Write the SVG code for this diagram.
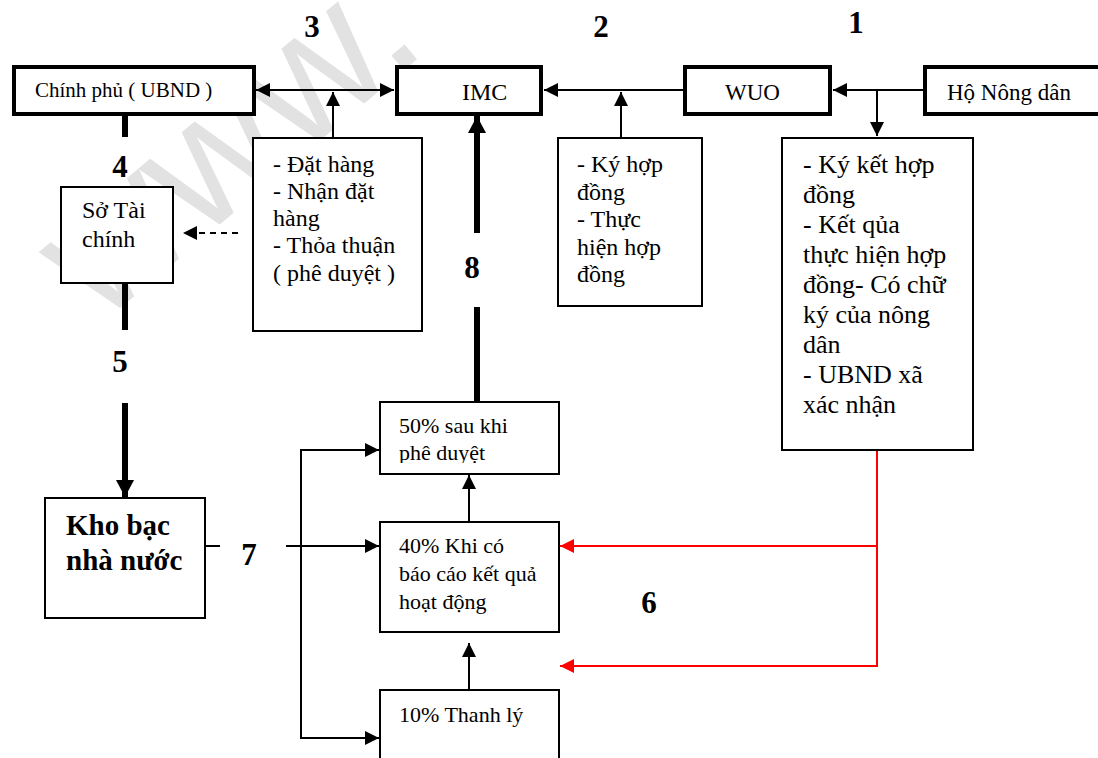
<svg xmlns="http://www.w3.org/2000/svg" width="1098" height="758" viewBox="0 0 1098 758">
<style>
.bg{fill:#fff}
.wm{font-family:"Liberation Sans",Arial,sans-serif;font-size:180px;fill:#e2e2e2}
.box{fill:#fff;stroke:#000;stroke-width:2}
.tbox{fill:#fff;stroke:#000;stroke-width:4}
.tx{font-family:"Liberation Serif","Times New Roman",serif;fill:#000}
.s21{font-size:21px}
.s22{font-size:22px}
.s23{font-size:23px}
.s24{font-size:24px}
.s26{font-size:26px}
.kb{font-size:29px;font-weight:bold}
.num{font-size:31px;font-weight:bold;text-anchor:middle}
.ln{fill:none;stroke:#000;stroke-width:2}
.thick{fill:none;stroke:#000;stroke-width:6}
.red{fill:none;stroke:#ff0000;stroke-width:2}
.dash{fill:none;stroke:#000;stroke-width:2;stroke-dasharray:6,5}
</style>
<defs>
<marker id="ah" viewBox="0 0 14 14" markerWidth="14" markerHeight="14" refX="14" refY="7" orient="auto-start-reverse" markerUnits="userSpaceOnUse"><path d="M0,0 L14,7 L0,14 z" fill="#000"/></marker>
<marker id="ahr" viewBox="0 0 14 14" markerWidth="14" markerHeight="14" refX="14" refY="7" orient="auto" markerUnits="userSpaceOnUse"><path d="M0,0 L14,7 L0,14 z" fill="#ff0000"/></marker>
<marker id="ahb" viewBox="0 0 17 18" markerWidth="17" markerHeight="18" refX="17" refY="9" orient="auto" markerUnits="userSpaceOnUse"><path d="M0,0 L17,9 L0,18 z" fill="#000"/></marker>
<clipPath id="c50"><rect x="380" y="403" width="178" height="60"/></clipPath>
</defs>
<rect class="bg" x="0" y="0" width="1098" height="758"/>
<text class="wm" transform="translate(100,325) rotate(-40)">www.</text>

<g id="connectors">
<line class="ln" x1="256" y1="90" x2="394" y2="90" marker-start="url(#ah)" marker-end="url(#ah)"/>
<line class="ln" x1="333" y1="137" x2="333" y2="92" marker-end="url(#ah)"/>
<line class="ln" x1="684" y1="90" x2="544" y2="90" marker-end="url(#ah)"/>
<line class="ln" x1="621" y1="137" x2="621" y2="92" marker-end="url(#ah)"/>
<line class="ln" x1="924" y1="90" x2="833" y2="90" marker-end="url(#ah)"/>
<line class="ln" x1="877" y1="90" x2="877" y2="136" marker-end="url(#ah)"/>
<line class="dash" x1="238" y1="233" x2="183" y2="233" marker-end="url(#ah)"/>
<line class="thick" x1="125" y1="115" x2="125" y2="137"/>
<line class="thick" x1="125" y1="283" x2="125" y2="330"/>
<line class="thick" x1="125" y1="403" x2="125" y2="497" marker-end="url(#ahb)"/>
<line class="thick" x1="477" y1="233" x2="477" y2="116" marker-end="url(#ahb)"/>
<line class="thick" x1="477" y1="307" x2="477" y2="402"/>
<line class="ln" x1="205" y1="546" x2="220" y2="546"/>
<line class="ln" x1="286" y1="546" x2="379" y2="546" marker-end="url(#ah)"/>
<polyline class="ln" points="379,450 301,450 301,738 379,738" marker-start="url(#ah)" marker-end="url(#ah)"/>
<line class="ln" x1="469" y1="522" x2="469" y2="475" marker-end="url(#ah)"/>
<line class="ln" x1="469" y1="690" x2="469" y2="643" marker-end="url(#ah)"/>
<polyline class="red" points="877,450 877,666 560,666" marker-end="url(#ahr)"/>
<line class="red" x1="877" y1="546" x2="560" y2="546" marker-end="url(#ahr)"/>
</g>

<g id="n-chinhphu"><rect class="tbox" x="14" y="67" width="240" height="47"/><text class="tx s21" x="35" y="97">Chính phủ ( UBND )</text></g>
<g id="n-imc"><rect class="tbox" x="397" y="67" width="144" height="47"/><text class="tx s24" x="462" y="100">IMC</text></g>
<g id="n-wuo"><rect class="tbox" x="685" y="67" width="145" height="47"/><text class="tx s23" x="725" y="100">WUO</text></g>
<g id="n-hond"><rect class="tbox" x="925" y="67" width="190" height="47"/><text class="tx s23" x="947" y="100">Hộ Nông dân</text></g>

<g id="n-dathang"><rect class="box" x="253" y="138" width="169" height="193"/>
<text class="tx s24" x="273" y="172">- Đặt hàng</text>
<text class="tx s24" x="273" y="199">- Nhận đặt</text>
<text class="tx s24" x="273" y="226">hàng</text>
<text class="tx s24" x="273" y="253">- Thỏa thuận</text>
<text class="tx s24" x="273" y="281">( phê duyệt )</text></g>

<g id="n-kyhopdong"><rect class="box" x="558" y="138" width="144" height="168"/>
<text class="tx s24" x="577" y="172">- Ký hợp</text>
<text class="tx s24" x="577" y="200">đồng</text>
<text class="tx s24" x="577" y="227">- Thực</text>
<text class="tx s24" x="577" y="255">hiện hợp</text>
<text class="tx s24" x="577" y="282">đồng</text></g>

<g id="n-kyket"><rect class="box" x="782" y="138" width="191" height="312"/>
<text class="tx s26" x="803" y="173">- Ký kết hợp</text>
<text class="tx s26" x="803" y="203">đồng</text>
<text class="tx s26" x="803" y="233">- Kết qủa</text>
<text class="tx s26" x="803" y="263">thực hiện hợp</text>
<text class="tx s26" x="803" y="293">đồng- Có chữ</text>
<text class="tx s26" x="803" y="323">ký của nông</text>
<text class="tx s26" x="803" y="353">dân</text>
<text class="tx s26" x="803" y="383">- UBND xã</text>
<text class="tx s26" x="803" y="413">xác nhận</text></g>

<g id="n-sotaichinh"><rect class="box" x="61" y="187" width="112" height="96"/>
<text class="tx s24" x="82" y="218">Sở Tài</text>
<text class="tx s24" x="82" y="247">chính</text></g>

<g id="n-khobac"><rect class="box" x="45" y="498" width="160" height="120"/>
<text class="tx kb" x="66" y="535">Kho bạc</text>
<text class="tx kb" x="66" y="570">nhà nước</text></g>

<g id="n-50"><rect class="box" x="380" y="402" width="179" height="72"/>
<g clip-path="url(#c50)"><text class="tx s22" x="399" y="433">50% sau khi</text>
<text class="tx s22" x="399" y="460">phê duyệt</text></g></g>

<g id="n-40"><rect class="box" x="380" y="522" width="179" height="110"/>
<text class="tx s22" x="399" y="553">40% Khi có</text>
<text class="tx s22" x="399" y="581">báo cáo kết quả</text>
<text class="tx s22" x="399" y="609">hoạt động</text></g>

<g id="n-10"><rect class="box" x="380" y="690" width="179" height="100"/>
<text class="tx s22" x="399" y="722">10% Thanh lý</text></g>

<g id="labels">
<text class="tx num" x="856" y="33">1</text>
<text class="tx num" x="601" y="37">2</text>
<text class="tx num" x="312" y="37">3</text>
<text class="tx num" x="120" y="177">4</text>
<text class="tx num" x="120" y="372">5</text>
<text class="tx num" x="649" y="613">6</text>
<text class="tx num" x="249" y="565">7</text>
<text class="tx num" x="472" y="278">8</text>
</g>
</svg>
